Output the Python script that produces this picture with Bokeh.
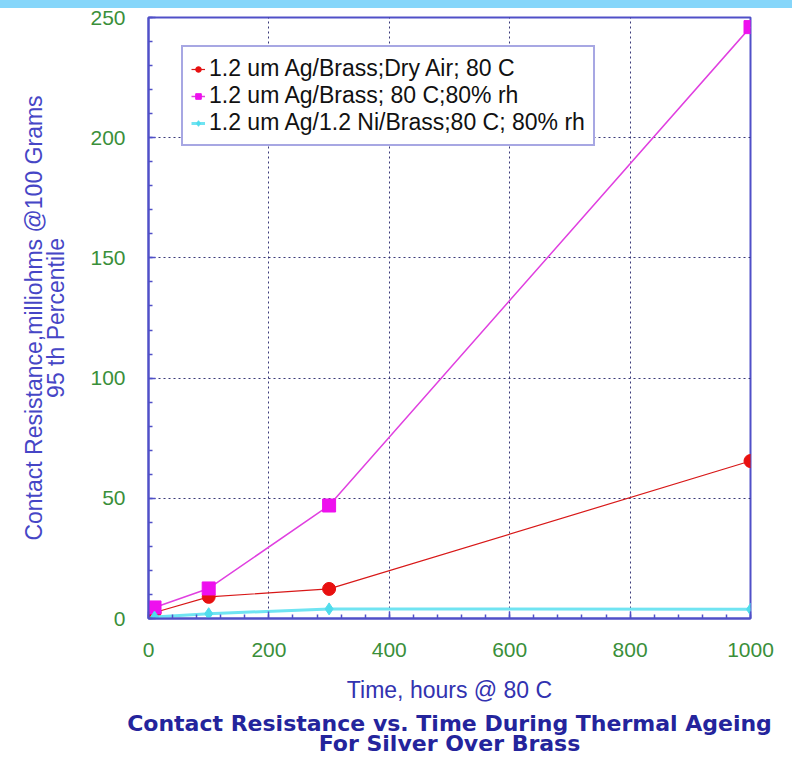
from bokeh.plotting import figure
from bokeh.models import (Range1d, SingleIntervalTicker, Legend, LegendItem, Title)
from bokeh.embed import file_html
from bokeh.resources import INLINE

# ---- data ----
hours = [10, 100, 300, 1000]
dry_air = [2.5, 9.0, 12.3, 65.5]
brass_rh = [4.6, 12.5, 47.0, 246.0]
ni_rh = [0.6, 2.0, 4.0, 3.8]
series_names = ["1.2 um Ag/Brass;Dry Air; 80 C",
                "1.2 um Ag/Brass; 80 C;80% rh",
                "1.2 um Ag/1.2 Ni/Brass;80 C; 80% rh"]
x_ticks_interval = 200
y_ticks_interval = 50
x_label = "Time, hours @ 80 C"
y_label = "Contact Resistance,milliohms @100 Grams\n95 th Percentile"
title_text = "Contact Resistance vs. Time During Thermal Ageing\nFor Silver Over Brass"

FONT = "Liberation Sans"
FRAME = "#5050c8"
BAND = "#86d6fa"

p = figure(width=792, height=759, output_backend="svg", toolbar_location=None,
           x_range=Range1d(0, 1000), y_range=Range1d(0, 250),
           min_border_left=148, min_border_right=42, min_border_top=17,
           min_border_bottom=141,
           styles={"background": f"linear-gradient(to bottom, {BAND} 0px, {BAND} 8px, #ffffff 8px, #ffffff 100%)"})
p.background_fill_color = "white"
p.border_fill_alpha = 0
p.outline_line_color = FRAME
p.outline_line_width = 2

p.xaxis.ticker = SingleIntervalTicker(interval=x_ticks_interval, num_minor_ticks=5)
p.yaxis.ticker = SingleIntervalTicker(interval=y_ticks_interval, num_minor_ticks=5)
for ax in (p.xaxis, p.yaxis):
    ax.axis_line_color = FRAME
    ax.axis_line_width = 2
    ax.major_tick_line_color = FRAME
    ax.minor_tick_line_color = FRAME
    ax.major_tick_line_width = 1.5
    ax.minor_tick_line_width = 1.5
    ax.major_tick_in = 7
    ax.major_tick_out = 0
    ax.minor_tick_in = 4
    ax.minor_tick_out = 0
    ax.major_label_text_color = "#3a8f3a"
    ax.major_label_text_font = FONT
    ax.major_label_text_font_size = "21px"
    ax.axis_label_text_font = FONT
    ax.axis_label_text_font_style = "normal"
    ax.axis_label_text_font_size = "23px"
p.xaxis.major_label_standoff = 24
p.yaxis.major_label_standoff = 23
p.xaxis.axis_label = x_label
p.xaxis.axis_label_text_color = "#3232b0"
p.xaxis.axis_label_standoff = 17
p.yaxis.axis_label = y_label
p.yaxis.axis_label_text_color = "#4646c6"
p.yaxis.axis_label_standoff = 18
p.yaxis.axis_label_text_line_height = 0.86

p.grid.grid_line_color = "#23236a"
p.grid.grid_line_dash = "2 3"
p.grid.grid_line_alpha = 0.9

r_l1 = p.line(hours, dry_air, line_color="#d81818", line_width=1.2)
r_m1 = p.scatter(hours, dry_air, marker="circle", size=13, fill_color="#e81010",
                 line_color="#e81010")
r_l2 = p.line(hours, brass_rh, line_color="#e040e0", line_width=1.5)
r_m2 = p.scatter(hours, brass_rh, marker="square", size=13, fill_color="#ee10ee",
                 line_color="#ee10ee")
r_l3 = p.line(hours, ni_rh, line_color="#70e4f2", line_width=3)
r_m3 = p.scatter(hours, ni_rh, marker="diamond", size=12, fill_color="#50dcec",
                 line_color="#50dcec")

legend = Legend(items=[LegendItem(label=series_names[0], renderers=[r_l1, r_m1]),
                       LegendItem(label=series_names[1], renderers=[r_l2, r_m2]),
                       LegendItem(label=series_names[2], renderers=[r_l3, r_m3])],
                location=(33, 472))
legend.border_line_color = FRAME
legend.border_line_width = 2
legend.background_fill_color = "white"
legend.background_fill_alpha = 1
legend.label_text_font = FONT
legend.label_text_font_size = "23px"
legend.label_text_color = "#111111"
legend.glyph_width = 14
legend.glyph_height = 20
legend.label_height = 20
legend.label_standoff = 4
legend.spacing = 0
legend.padding = 8
legend.margin = 0
p.add_layout(legend, "center")

t = Title(text=title_text, align="center", text_align="center",
          text_font="DejaVu Sans", text_font_style="bold",
          text_font_size="22px", text_color="#24249c", text_line_height=0.77,
          standoff=8, offset=0)
p.add_layout(t, "below")

open("out.html", "w").write(file_html(p, INLINE))
